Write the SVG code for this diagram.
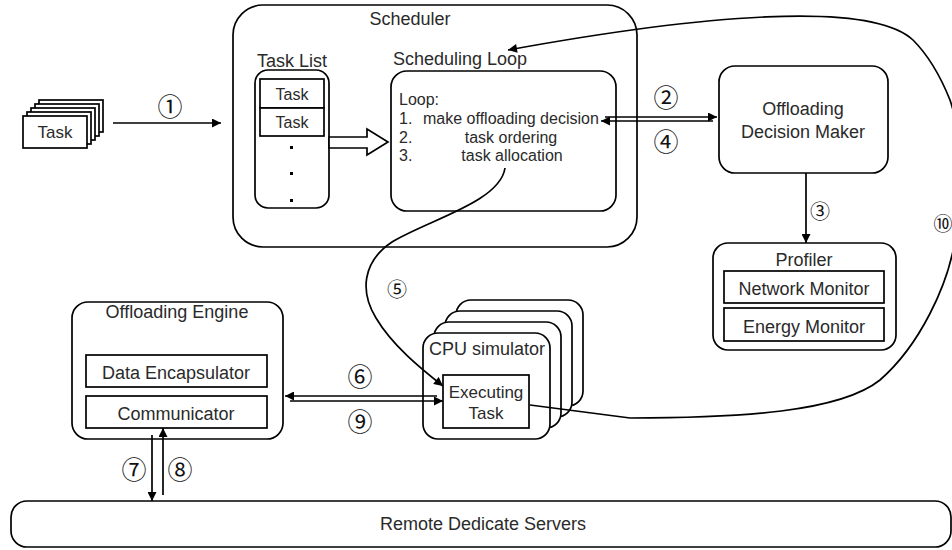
<svg xmlns="http://www.w3.org/2000/svg" width="952" height="550" viewBox="0 0 952 550">
<style>
  .box{fill:#fff;stroke:#000;stroke-width:1.7}
  .nobg{fill:none;stroke:#000;stroke-width:1.7}
  .t{font-family:"Liberation Sans",Arial,sans-serif;fill:#2a2a2a;text-anchor:middle}
  .l{font-family:"Liberation Sans",Arial,sans-serif;fill:#2a2a2a}
  .c{font-family:"Noto Sans CJK SC","DejaVu Sans",sans-serif;fill:#111;text-anchor:middle;dominant-baseline:central}
  .ln{fill:none;stroke:#000;stroke-width:1.7}
</style>
<defs>
  <marker id="ah" viewBox="0 0 10 10" refX="10" refY="5" markerWidth="11" markerHeight="9" markerUnits="userSpaceOnUse" orient="auto">
    <path d="M0,0 L10,5 L0,10 z" fill="#000"/>
  </marker>
</defs>
<rect width="952" height="550" fill="#fff"/>

<g id="task-stack">
  <rect class="box" x="39" y="100" width="64" height="32"/>
  <rect class="box" x="35" y="104" width="64" height="32"/>
  <rect class="box" x="31" y="108" width="64" height="32"/>
  <rect class="box" x="27" y="112" width="64" height="32"/>
  <rect class="box" x="23" y="116" width="64" height="32"/>
  <text class="t" x="55" y="138" font-size="17">Task</text>
</g>

<g id="scheduler">
  <rect class="nobg" x="233" y="5" width="404" height="242" rx="30"/>
  <text class="t" x="410" y="25" font-size="18">Scheduler</text>
</g>

<g id="task-list">
  <text class="t" x="292" y="67" font-size="18">Task List</text>
  <rect class="nobg" x="255" y="70" width="74" height="138" rx="13"/>
  <rect class="box" x="260" y="79" width="64" height="29"/>
  <text class="t" x="292" y="100" font-size="16">Task</text>
  <rect class="box" x="260" y="108" width="64" height="28"/>
  <text class="t" x="292" y="128" font-size="16">Task</text>
  <rect x="290" y="146" width="3" height="3" fill="#000"/>
  <rect x="290" y="172" width="3" height="3" fill="#000"/>
  <rect x="290" y="199" width="3" height="3" fill="#000"/>
</g>

<g id="scheduling-loop">
  <text class="t" x="460" y="65" font-size="18">Scheduling Loop</text>
  <rect class="nobg" x="391" y="71" width="225" height="140" rx="16"/>
  <text class="l" x="399" y="105" font-size="16">Loop:</text>
  <text class="l" x="399" y="124" font-size="16">1.</text>
  <text class="l" x="423" y="124" font-size="16">make offloading decision</text>
  <text class="l" x="399" y="143" font-size="16">2.</text>
  <text class="t" x="511" y="143" font-size="16">task ordering</text>
  <text class="l" x="399" y="161" font-size="16">3.</text>
  <text class="t" x="512" y="161" font-size="16">task allocation</text>
</g>

<g id="offloading-decision-maker">
  <rect class="nobg" x="719" y="66" width="169" height="107" rx="16"/>
  <text class="t" x="803" y="115" font-size="18">Offloading</text>
  <text class="t" x="803" y="138" font-size="18">Decision Maker</text>
</g>

<g id="profiler">
  <rect class="nobg" x="713" y="243" width="183" height="107" rx="15"/>
  <text class="t" x="804" y="266" font-size="18">Profiler</text>
  <rect class="box" x="724" y="271" width="160" height="32"/>
  <text class="t" x="804" y="295" font-size="18">Network Monitor</text>
  <rect class="box" x="724" y="308" width="160" height="33"/>
  <text class="t" x="804" y="333" font-size="18">Energy Monitor</text>
</g>

<g id="offloading-engine">
  <rect class="nobg" x="72" y="302" width="211" height="137" rx="16"/>
  <text class="t" x="177" y="318" font-size="18">Offloading Engine</text>
  <rect class="box" x="86" y="355" width="181" height="32"/>
  <text class="t" x="176" y="379" font-size="18">Data Encapsulator</text>
  <rect class="box" x="86" y="396" width="181" height="32"/>
  <text class="t" x="176" y="420" font-size="18">Communicator</text>
</g>

<g id="cpu-simulator">
  <rect class="box" x="456" y="300" width="127" height="106" rx="15"/>
  <rect class="box" x="445" y="311" width="127" height="106" rx="15"/>
  <rect class="box" x="434" y="322" width="127" height="106" rx="15"/>
  <rect class="box" x="423" y="333" width="127" height="106" rx="15"/>
  <text class="t" x="487" y="355" font-size="18">CPU simulator</text>
  <rect class="box" x="443" y="375" width="86" height="53"/>
  <text class="t" x="486" y="398" font-size="17">Executing</text>
  <text class="t" x="486" y="419" font-size="17">Task</text>
</g>

<g id="remote-servers">
  <rect class="nobg" x="11" y="501" width="940" height="46" rx="16"/>
  <text class="t" x="483" y="530" font-size="18">Remote Dedicate Servers</text>
</g>

<g id="connectors">
  <line class="ln" x1="113" y1="123" x2="221" y2="123" marker-end="url(#ah)"/>
  <polygon points="329,137 367,137 367,129 388,142 367,155 367,148 329,148" fill="#fff" stroke="#000" stroke-width="1.7"/>
  <line class="ln" x1="605" y1="117" x2="717" y2="117" marker-end="url(#ah)"/>
  <line class="ln" x1="713" y1="121" x2="601" y2="121" marker-end="url(#ah)"/>
  <line class="ln" x1="806" y1="173" x2="806" y2="243" marker-end="url(#ah)"/>
  <path class="ln" d="M505 168 C500 202 428 220 392 242 C362 262 360 292 376 318 C392 345 420 368 443 386" marker-end="url(#ah)"/>
  <line class="ln" x1="437" y1="396" x2="285" y2="396" marker-end="url(#ah)"/>
  <line class="ln" x1="290" y1="401" x2="443" y2="401" marker-end="url(#ah)"/>
  <line class="ln" x1="152" y1="435" x2="152" y2="501" marker-end="url(#ah)"/>
  <line class="ln" x1="163" y1="495" x2="163" y2="428" marker-end="url(#ah)"/>
  <path class="ln" d="M530 405 L630 418 C740 418 840 412 880 380 C920 345 948 285 955 240 C965 170 960 130 950 100 C940 75 928 55 913 40 C870 0 700 15 508 50" marker-end="url(#ah)"/>
</g>

<g id="labels">
  <text class="c" x="170" y="105" font-size="25">①</text>
  <text class="c" x="666" y="96" font-size="25">②</text>
  <text class="c" x="666" y="140" font-size="25">④</text>
  <text class="c" x="820" y="210" font-size="20">③</text>
  <text class="c" x="397" y="288" font-size="20">⑤</text>
  <text class="c" x="360" y="375" font-size="25">⑥</text>
  <text class="c" x="360" y="420" font-size="25">⑨</text>
  <text class="c" x="134" y="468" font-size="25">⑦</text>
  <text class="c" x="180" y="468" font-size="25">⑧</text>
  <text class="c" x="943" y="222" font-size="19">⑩</text>
</g>
</svg>
